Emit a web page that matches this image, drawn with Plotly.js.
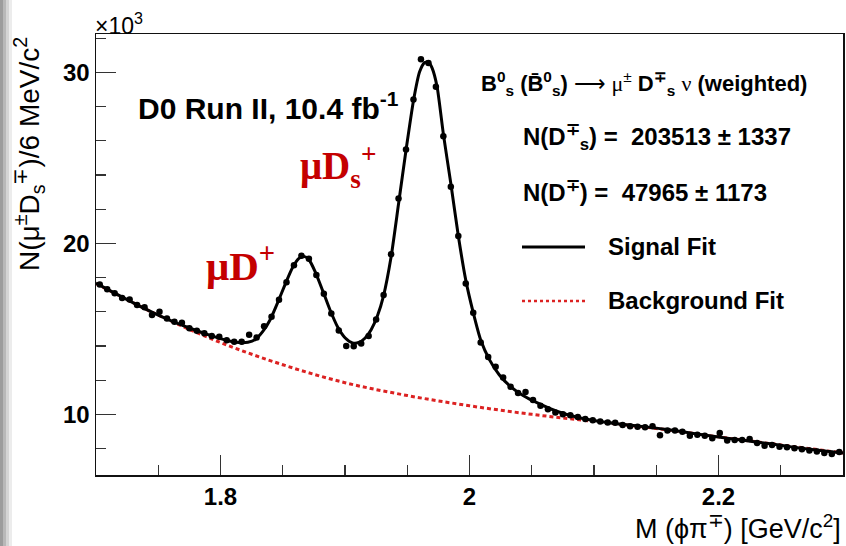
<!DOCTYPE html>
<html>
<head>
<meta charset="utf-8">
<script src="https://cdn.plot.ly/plotly-3.0.1.min.js"></script>
<style>
  html, body { margin: 0; padding: 0; background: #fff; }
  #plot { width: 846px; height: 546px; }
</style>
</head>
<body>
<div id="plot"></div>
<script>
// Histogram of M(phi pi) in 6 MeV bins from 1.70 to 2.30 GeV, counts in units of 10^3
const binLow = 1.700;
const binWidth = 0.006;
const countsK = [
  17.60, 17.31, 17.08, 16.80, 16.72, 16.40, 16.26, 15.81, 16.00, 15.61,
  15.42, 15.36, 15.03, 14.89, 14.74, 14.58, 14.54, 14.34, 14.25, 14.25,
  14.66, 14.50, 15.15, 15.71, 16.70, 17.72, 18.72, 19.27, 19.10, 18.15,
  17.05, 15.90, 14.90, 14.00, 13.98, 14.15, 14.58, 15.55, 16.98, 19.37,
  22.63, 25.50, 28.42, 30.78, 30.56, 29.16, 26.27, 23.31, 20.43, 17.66,
  15.94, 14.20, 13.36, 12.78, 12.15, 11.61, 11.25, 11.30, 10.84, 10.50,
  10.30, 10.10, 10.00, 9.95, 9.84, 9.72, 9.66, 9.58, 9.52, 9.50,
  9.38, 9.30, 9.28, 9.25, 9.30, 8.78, 9.05, 9.05, 8.98, 8.74,
  8.80, 8.74, 8.60, 8.90, 8.47, 8.50, 8.50, 8.55, 8.32, 8.16,
  8.20, 8.10, 8.07, 8.02, 7.95, 7.88, 7.82, 7.73, 7.68, 7.80
];
const binCenters = countsK.map((_, i) => binLow + binWidth * (i + 0.5));

// Signal + background fit curve
const fitM = [1.700, 1.710, 1.720, 1.730, 1.740, 1.750, 1.760, 1.770, 1.780, 1.790,
  1.800, 1.808, 1.815, 1.822, 1.828, 1.834, 1.840, 1.846, 1.852, 1.858,
  1.863, 1.867, 1.871, 1.876, 1.882, 1.888, 1.894, 1.900, 1.906, 1.911,
  1.916, 1.921, 1.926, 1.931, 1.937, 1.943, 1.949, 1.955, 1.960, 1.964,
  1.967, 1.970, 1.974, 1.979, 1.985, 1.991, 1.997, 2.003, 2.009, 2.016,
  2.024, 2.033, 2.043, 2.055, 2.070, 2.085, 2.100, 2.120, 2.140, 2.160,
  2.180, 2.200, 2.220, 2.240, 2.260, 2.280, 2.300];
const fitK = [17.68, 17.28, 16.90, 16.52, 16.15, 15.80, 15.48, 15.19, 14.92, 14.66,
  14.43, 14.28, 14.20, 14.22, 14.38, 14.85, 15.55, 16.55, 17.62, 18.60,
  19.12, 19.24, 19.05, 18.35, 17.25, 16.10, 15.12, 14.48, 14.18, 14.20,
  14.45, 14.95, 15.75, 16.95, 19.20, 22.30, 25.45, 28.35, 30.05, 30.58,
  30.62, 30.25, 29.15, 26.40, 23.50, 20.45, 17.85, 15.95, 14.35, 13.20,
  12.30, 11.62, 11.10, 10.65, 10.18, 9.86, 9.64, 9.44, 9.28, 9.10,
  8.88, 8.67, 8.48, 8.29, 8.08, 7.90, 7.74];

// Background-only fit curve
const bkgM = [1.70, 1.75, 1.80, 1.85, 1.90, 1.95, 2.00, 2.05, 2.10, 2.15, 2.20, 2.25, 2.30];
const bkgK = [17.65, 15.80, 14.20, 12.90, 11.85, 11.10, 10.50, 10.00, 9.58, 9.17, 8.68, 8.21, 7.74];

// Axis ticks
const xTickVals = [1.8, 2.0, 2.2];
const xTickText = ['1.8', '2', '2.2'];
const yTickVals = [10, 20, 30];
const yTickText = ['10', '20', '30'];

// Fit yields shown in the legend box
const yieldDs = {n: 203513, err: 1337};
const yieldD = {n: 47965, err: 1173};

const SANS = 'Liberation Sans, Arial, Helvetica, sans-serif';
const SERIF = 'Liberation Serif, Times New Roman, serif';
const RED = '#c40000';
const BKG_RED = '#dc2222';

// pixel helpers for a 96..843 x 34..475 plot box
const L = 96, R = 843, T = 34, B = 475;
const px = v => (v - L) / (R - L);
const py = v => (B - v) / (B - T);

// Greek letters and arrow of the decay in a plain serif face
const sym = s => '<span style="font-family:Liberation Serif, serif;font-weight:normal">' + s + '</span>';

const traces = [
  {
    x: bkgM, y: bkgK, type: 'scatter', mode: 'lines',
    line: {color: BKG_RED, width: 3, dash: '4px,3px', shape: 'spline', smoothing: 1},
    hoverinfo: 'skip', showlegend: false
  },
  {
    x: fitM, y: fitK, type: 'scatter', mode: 'lines',
    line: {color: '#000', width: 3, shape: 'spline', smoothing: 0.6},
    hoverinfo: 'skip', showlegend: false
  },
  {
    x: binCenters, y: countsK, type: 'scatter', mode: 'markers',
    marker: {color: '#000', size: 6.5},
    showlegend: false
  }
];

const annotations = [
  {text: '×10<sup>3</sup>', x: px(93), y: py(24), xanchor: 'left', yanchor: 'middle',
   font: {family: SANS, size: 23, color: '#000'}},
  {text: 'N(μ<sup>±</sup>D<sub>s</sub><sup>∓</sup>)/6 MeV/c<sup>2</sup>', textangle: -90,
   x: px(29), y: py(35), xanchor: 'center', yanchor: 'top',
   font: {family: SANS, size: 28, color: '#000'}},
  {text: 'M (ϕπ<sup>∓</sup>) [GeV/c<sup>2</sup>]', x: 1, y: py(527), xanchor: 'right', yanchor: 'middle',
   font: {family: SANS, size: 27, color: '#000'}},
  {text: '<b>D0 Run II, 10.4 fb<sup>-1</sup></b>', x: px(136), y: py(106), xanchor: 'left', yanchor: 'middle',
   font: {family: SANS, size: 30, color: '#000'}},
  {text: '<b>μD<sup>+</sup></b>', x: px(204), y: py(263), xanchor: 'left', yanchor: 'middle',
   font: {family: SERIF, size: 41, color: RED}},
  {text: '<b>μD<sub>s</sub><sup>+</sup></b>', x: px(298), y: py(166), xanchor: 'left', yanchor: 'middle',
   font: {family: SERIF, size: 39, color: RED}},
  {text: '<b>B<sup>0</sup><sub>s</sub> (B̄<sup>0</sup><sub>s</sub>)</b> ' + sym('⟶ μ') + '<sup>±</sup> <b>D<sup>∓</sup><sub>s</sub></b> ' + sym('ν') + ' <b>(weighted)</b>',
   x: px(479), y: py(83), xanchor: 'left', yanchor: 'middle',
   font: {family: SANS, size: 22, color: '#000'}},
  {text: '<b>N(D<sup>∓</sup><sub>s</sub>) =  ' + yieldDs.n + ' ± ' + yieldDs.err + '</b>',
   x: px(521), y: py(137), xanchor: 'left', yanchor: 'middle',
   font: {family: SANS, size: 24, color: '#000'}},
  {text: '<b>N(D<sup>∓</sup>) =  ' + yieldD.n + ' ± ' + yieldD.err + '</b>',
   x: px(521), y: py(191), xanchor: 'left', yanchor: 'middle',
   font: {family: SANS, size: 24, color: '#000'}},
  {text: '<b>Signal Fit</b>', x: px(606), y: py(246), xanchor: 'left', yanchor: 'middle',
   font: {family: SANS, size: 24, color: '#000'}},
  {text: '<b>Background Fit</b>', x: px(606), y: py(300), xanchor: 'left', yanchor: 'middle',
   font: {family: SANS, size: 24, color: '#000'}}
].map(a => Object.assign({xref: 'paper', yref: 'paper', showarrow: false}, a));

const shapes = [
  // legend line samples
  {type: 'line', xref: 'paper', yref: 'paper', x0: px(522), x1: px(585), y0: py(247), y1: py(247),
   line: {color: '#000', width: 3}},
  {type: 'line', xref: 'paper', yref: 'paper', x0: px(522), x1: px(585), y0: py(301), y1: py(301),
   line: {color: BKG_RED, width: 2.5, dash: 'dot'}},
  // shaded left page edge
  {type: 'rect', xref: 'paper', yref: 'paper', x0: px(0), x1: px(3), y0: py(546), y1: py(0),
   line: {width: 0}, fillcolor: '#9c9c9c', layer: 'below'},
  {type: 'rect', xref: 'paper', yref: 'paper', x0: px(3), x1: px(6), y0: py(546), y1: py(0),
   line: {width: 0}, fillcolor: '#b8b8b8', layer: 'below'},
  {type: 'rect', xref: 'paper', yref: 'paper', x0: px(6), x1: px(9), y0: py(546), y1: py(0),
   line: {width: 0}, fillcolor: '#d4d4d4', layer: 'below'},
  {type: 'rect', xref: 'paper', yref: 'paper', x0: px(9), x1: px(12), y0: py(546), y1: py(0),
   line: {width: 0}, fillcolor: '#ececec', layer: 'below'}
];

const layout = {
  width: 846, height: 546,
  margin: {l: L, r: 846 - R, t: T, b: 546 - B, pad: 0},
  paper_bgcolor: '#fff', plot_bgcolor: '#fff',
  showlegend: false,
  font: {family: SANS, color: '#000'},
  xaxis: {
    range: [1.7, 2.3], showgrid: false, zeroline: false,
    showline: true, mirror: true, linecolor: '#111', linewidth: 1.5,
    ticks: 'inside', ticklen: 20, tickwidth: 1.2, tickcolor: '#333',
    tickmode: 'array', tickvals: xTickVals, ticktext: xTickText,
    tickfont: {family: SANS, size: 24, color: '#000', weight: 'bold'},
    minor: {dtick: 0.05, tick0: 1.7, ticks: 'inside', ticklen: 10, tickwidth: 1.2, tickcolor: '#333', showgrid: false}
  },
  yaxis: {
    range: [6.45, 32.25], showgrid: false, zeroline: false,
    showline: true, mirror: true, linecolor: '#111', linewidth: 1.5,
    ticks: 'inside', ticklen: 20, tickwidth: 1.2, tickcolor: '#333',
    tickmode: 'array', tickvals: yTickVals, ticktext: yTickText,
    tickfont: {family: SANS, size: 24, color: '#000', weight: 'bold'},
    minor: {dtick: 2, tick0: 0, ticks: 'inside', ticklen: 10, tickwidth: 1.2, tickcolor: '#333', showgrid: false}
  },
  annotations: annotations,
  shapes: shapes
};

Plotly.newPlot('plot', traces, layout, {staticPlot: true, displayModeBar: false});
</script>
</body>
</html>
